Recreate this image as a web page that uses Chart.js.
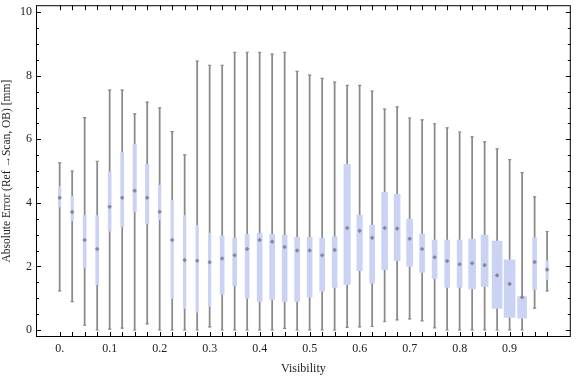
<!DOCTYPE html>
<html>
<head>
<meta charset="utf-8">
<script src="https://cdn.jsdelivr.net/npm/chart.js@4.4.1/dist/chart.umd.min.js"></script>
<style>
  html, body { margin: 0; padding: 0; background: #fff; }
  #wrap { width: 576px; height: 377px; }
</style>
</head>
<body>
<div id="wrap"><canvas id="boxChart" width="576" height="377"></canvas></div>
<script>
// Visibility bins (box positions)
const visibility = [0, 0.025, 0.05, 0.075, 0.1, 0.125, 0.15, 0.175, 0.2, 0.225,
    0.25, 0.275, 0.3, 0.325, 0.35, 0.375, 0.4, 0.425, 0.45, 0.475,
    0.5, 0.525, 0.55, 0.575, 0.6, 0.625, 0.65, 0.675, 0.7, 0.725,
    0.75, 0.775, 0.8, 0.825, 0.85, 0.875, 0.9, 0.925, 0.95, 0.975];

// whisker ends
const whiskerLow = [1.23, 0.89, 0.15, 0.00, 0.03, 0.06, 0.00, 0.19, 0.00, 0.00,
    0.00, 0.00, 0.10, 0.00, 0.00, 0.00, 0.00, 0.00, 0.05, 0.00,
    0.00, 0.00, 0.00, 0.08, 0.10, 0.11, 0.26, 0.32, 0.35, 0.29,
    0.07, 0.00, 0.00, 0.00, 0.00, 0.00, 0.00, 0.00, 0.69, 1.23];
const whiskerHigh = [5.26, 5.00, 6.68, 5.31, 7.55, 7.55, 6.80, 7.17, 6.99, 6.24,
    5.51, 8.46, 8.33, 8.33, 8.74, 8.74, 8.74, 8.68, 8.74, 8.14,
    8.02, 7.92, 7.80, 7.70, 7.70, 7.52, 6.95, 7.02, 6.67, 6.61,
    6.49, 6.36, 6.23, 6.08, 5.92, 5.70, 5.36, 4.95, 4.19, 3.10];

// box: lower / upper quartile and median
const quartile1 = [3.87, 3.44, 1.97, 1.43, 3.11, 3.24, 3.72, 3.34, 3.47, 0.99,
    0.68, 0.56, 0.74, 1.12, 1.40, 1.00, 0.90, 0.96, 0.90, 0.90,
    1.03, 1.22, 1.34, 1.43, 1.87, 1.47, 1.90, 2.18, 2.00, 1.81,
    1.62, 1.34, 1.34, 1.29, 1.37, 0.68, 0.40, 0.37, 1.28, 1.58];
const quartile3 = [4.51, 4.21, 3.60, 3.60, 4.98, 5.58, 5.84, 5.21, 4.56, 4.08,
    3.60, 3.29, 3.05, 2.96, 2.89, 3.01, 3.04, 3.01, 2.98, 2.92,
    2.92, 2.89, 2.93, 5.21, 3.62, 3.30, 4.33, 4.27, 3.49, 3.02,
    2.83, 2.83, 2.83, 2.86, 2.99, 2.80, 2.21, 1.05, 2.90, 2.18];
const median = [4.16, 3.71, 2.83, 2.55, 3.88, 4.16, 4.38, 4.16, 3.72, 2.83,
    2.20, 2.18, 2.13, 2.25, 2.35, 2.55, 2.83, 2.78, 2.61, 2.50,
    2.50, 2.35, 2.52, 3.21, 3.12, 2.90, 3.21, 3.19, 2.87, 2.55,
    2.29, 2.17, 2.07, 2.10, 2.04, 1.72, 1.45, 1.03, 2.14, 1.90];

const xTickLabels = ['0.', '0.1', '0.2', '0.3', '0.4', '0.5', '0.6', '0.7', '0.8', '0.9'];
const yTickValues = [0, 2, 4, 6, 8, 10];

// box widths in px (style only)
const boxWidthPx = [2.5, 2.5, 3, 3, 3, 3, 3.5, 3.5, 2.5, 2.5,
    2.5, 2.5, 2.5, 4, 4, 4, 5, 5, 5, 5,
    5, 5, 5, 6.5, 5.5, 5, 6, 6, 6, 5,
    5, 5, 5, 7, 7, 10, 11, 9, 4, 2.5];

const boxColor = '#cbd3f5';
const whiskerColor = '#8a8a8a';

// one bar dataset per box width
const boxDatasets = [];
[...new Set(boxWidthPx)].forEach(w => {
    const pts = [];
    visibility.forEach((v, i) => {
        if (boxWidthPx[i] === w) pts.push({ x: v, y: [quartile1[i], quartile3[i]] });
    });
    boxDatasets.push({
        type: 'bar',
        data: pts,
        backgroundColor: boxColor,
        borderWidth: 0,
        barThickness: w,
        grouped: false,
        order: 2
    });
});

// frame + inward ticks like the original
const framePlugin = {
    id: 'frame',
    afterDraw(chart) {
        const { ctx, chartArea: a, scales: { x, y } } = chart;
        ctx.save();
        ctx.strokeStyle = '#000';
        ctx.lineWidth = 1;
        ctx.strokeRect(a.left + 0.5, a.top + 0.5, a.right - a.left - 1, a.bottom - a.top - 1);
        ctx.beginPath();
        visibility.forEach(v => {
            const px = Math.round(x.getPixelForValue(v)) + 0.5;
            ctx.moveTo(px, a.bottom); ctx.lineTo(px, a.bottom - 5);
            ctx.moveTo(px, a.top); ctx.lineTo(px, a.top + 5);
        });
        for (let k = 0; k <= 20; k++) {
            const py = Math.round(y.getPixelForValue(k / 2)) + 0.5;
            const len = k % 4 === 0 ? 5 : 3;
            ctx.moveTo(a.left, py); ctx.lineTo(a.left + len, py);
            ctx.moveTo(a.right, py); ctx.lineTo(a.right - len, py);
        }
        ctx.stroke();
        ctx.restore();
    }
};

Chart.defaults.font.family = '"Liberation Serif", "Times New Roman", serif';
Chart.defaults.font.size = 12;
Chart.defaults.color = '#000';

const ctx = document.getElementById('boxChart').getContext('2d');
const chart = new Chart(ctx, {
    type: 'bar',
    data: {
        datasets: [
            {
                type: 'scatter',
                data: visibility.map((v, i) => ({ x: v, y: median[i] })),
                pointStyle: 'rectRot',
                pointRadius: 2.3,
                backgroundColor: 'rgba(105,105,115,0.7)',
                borderWidth: 0,
                order: 0
            },
            {
                type: 'scatter',
                data: visibility.flatMap((v, i) => [{ x: v, y: whiskerLow[i] }, { x: v, y: whiskerHigh[i] }]),
                pointStyle: 'line',
                pointRadius: 1.6,
                borderColor: whiskerColor,
                borderWidth: 1.2,
                order: 1
            },
            ...boxDatasets,
            {
                type: 'bar',
                data: visibility.map((v, i) => ({ x: v, y: [whiskerLow[i], whiskerHigh[i]] })),
                backgroundColor: whiskerColor,
                borderWidth: 0,
                barThickness: 1.1,
                grouped: false,
                order: 3
            }
        ]
    },
    options: {
        responsive: false,
        animation: false,
        layout: { padding: { left: 0, right: 1, top: 4, bottom: 0 } },
        plugins: {
            legend: { display: false },
            tooltip: { enabled: false }
        },
        scales: {
            x: {
                type: 'linear',
                min: -0.034,
                max: 1.009,
                grid: { display: false, drawTicks: false },
                border: { display: false },
                afterBuildTicks: s => { s.ticks = visibility.map(v => ({ value: v })); },
                afterFit: s => { s.height = 40; s.paddingLeft = 0; s.paddingRight = 0; },
                ticks: {
                    autoSkip: false,
                    maxRotation: 0,
                    padding: 5,
                    color: '#222',
                    callback: (val, idx) => idx % 4 === 0 ? xTickLabels[idx / 4] : ''
                },
                title: { display: true, text: 'Visibility', padding: { top: 0, bottom: 1 }, color: '#222' }
            },
            y: {
                min: -0.22,
                max: 10.22,
                grid: { display: false, drawTicks: false },
                border: { display: false },
                afterBuildTicks: s => { s.ticks = yTickValues.map(v => ({ value: v })); },
                afterFit: s => { s.width = 36; s.paddingTop = 0; s.paddingBottom = 0; },
                ticks: { padding: 4, color: '#222' },
                title: {
                    display: true,
                    text: 'Absolute Error (Ref \u2192Scan, OB) [mm]',
                    font: { size: 11.5 },
                    padding: { top: 0, bottom: 0 },
                    color: '#222'
                }
            }
        }
    },
    plugins: [framePlugin]
});
</script>
</body>
</html>
